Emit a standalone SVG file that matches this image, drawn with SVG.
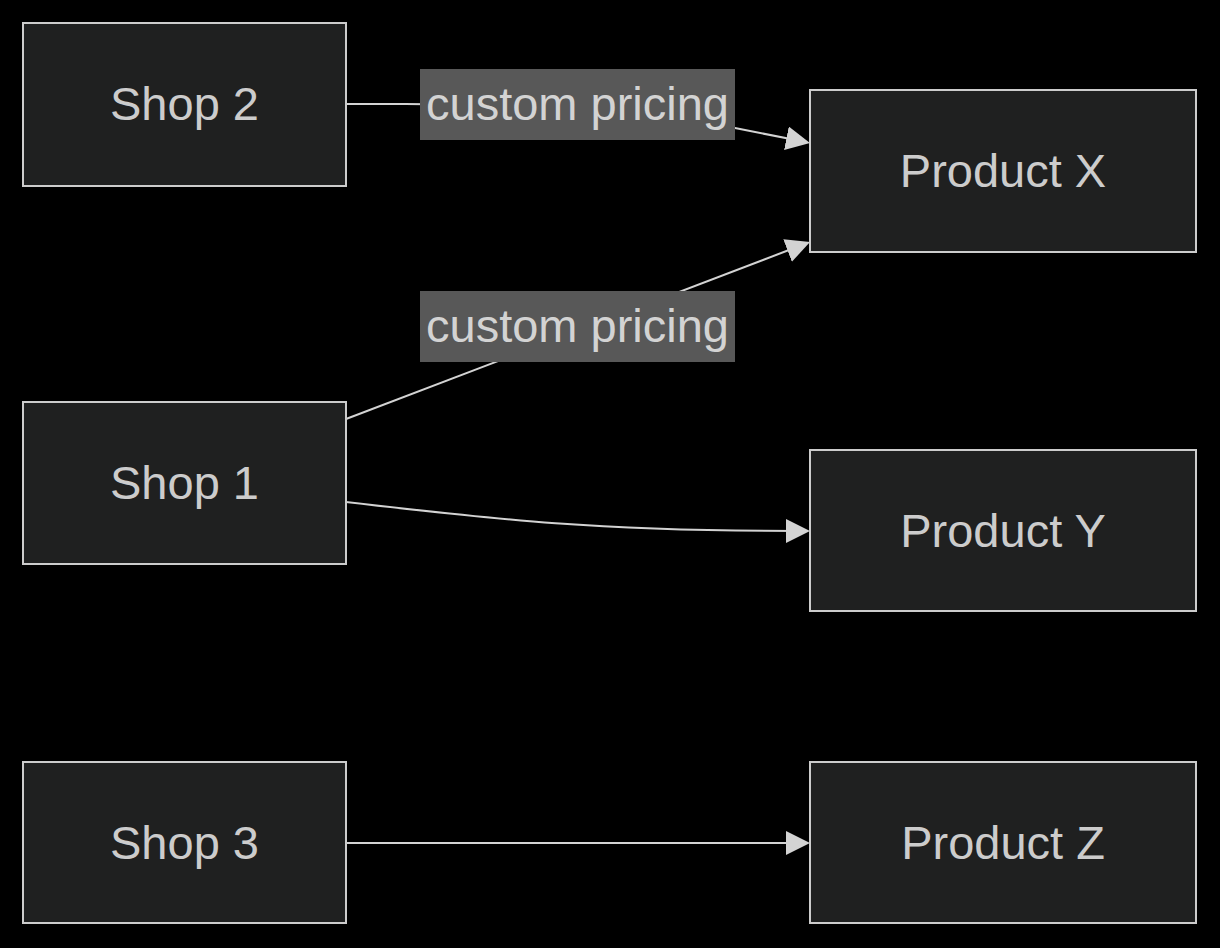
<svg xmlns="http://www.w3.org/2000/svg" width="1220" height="948" viewBox="0 0 1220 948">
<style>
.node rect{fill:#1f2020;stroke:#cccccc;stroke-width:2}
.node text{fill:#cccccc;font-family:"Liberation Sans",Arial,sans-serif;font-size:47px;text-anchor:middle}
.edge{fill:none;stroke:#d3d3d3;stroke-width:2}
.lbl rect{fill:#585858}
.lbl text{fill:#d3d3d3;font-family:"Liberation Sans",Arial,sans-serif;font-size:47px;text-anchor:middle}
</style>
<defs>
<marker id="arrow" markerUnits="userSpaceOnUse" markerWidth="24" markerHeight="24" viewBox="0 0 24 24" refX="12" refY="12" orient="auto">
<path d="M0,0 L24,12 L0,24 z" fill="#d3d3d3"/>
</marker>
</defs>
<rect width="1220" height="948" fill="#000"/>
<g id="connectors">
<path class="edge" d="M346,104 L405,104 C470,104 560,110 735,128 L798.2,140.6" marker-end="url(#arrow)"/>
<path class="edge" d="M346,419 L798.8,246.3" marker-end="url(#arrow)"/>
<path class="edge" d="M346,502 C500,520 600,531 798,531" marker-end="url(#arrow)"/>
<path class="edge" d="M346,843 L798,843" marker-end="url(#arrow)"/>
<g class="lbl">
<rect x="420" y="69" width="315" height="71"/>
<text x="577.5" y="120">custom pricing</text>
<rect x="420" y="291" width="315" height="71"/>
<text x="577.5" y="342">custom pricing</text>
</g>
</g>
<g id="shop2" class="node"><rect x="23" y="23" width="323" height="163"/><text x="184.5" y="120">Shop 2</text></g>
<g id="shop1" class="node"><rect x="23" y="402" width="323" height="162"/><text x="184.5" y="499">Shop 1</text></g>
<g id="shop3" class="node"><rect x="23" y="762" width="323" height="161"/><text x="184.5" y="859">Shop 3</text></g>
<g id="productX" class="node"><rect x="810" y="90" width="386" height="162"/><text x="1003" y="187">Product X</text></g>
<g id="productY" class="node"><rect x="810" y="450" width="386" height="161"/><text x="1003" y="547">Product Y</text></g>
<g id="productZ" class="node"><rect x="810" y="762" width="386" height="161"/><text x="1003" y="859">Product Z</text></g>
</svg>
